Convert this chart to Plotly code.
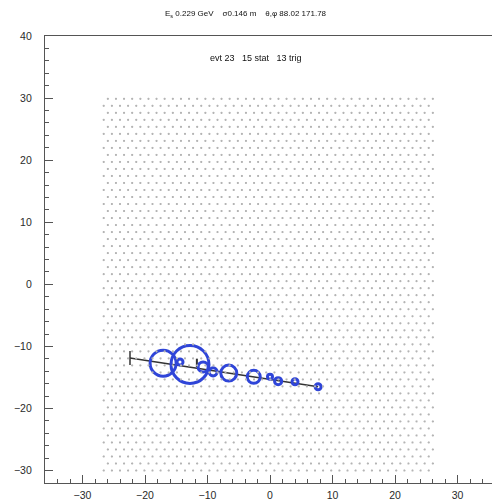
import numpy as np
import plotly.graph_objects as go

# Detector array: triangular lattice of stations
ARRAY_X_MIN, ARRAY_X_MAX = -26.6, 26.2
ARRAY_Y_MIN, ARRAY_Y_MAX = -30.0, 30.5
PITCH_X = 1.3          # spacing along a row
PITCH_Y = 1.13         # spacing between rows

# Hit stations (x, y in m) and their signals
hit_x = [-17.1, -12.8, -14.4, -10.7, -9.1, -6.6, -2.6, 0.0, 1.3, 4.0, 7.7]
hit_y = [-12.7, -12.9, -12.5, -13.3, -14.1, -14.3, -14.9, -14.9, -15.6, -15.7, -16.5]
hit_signal = [18.8, 40.0, 1.0, 2.8, 1.8, 7.1, 4.7, 0.7, 1.4, 1.0, 1.0]

# Reconstructed shower axis projection
axis_x = [-22.4, 7.7]
axis_y = [-11.85, -16.5]
core_x = [-11.7]
core_y = [-12.65]

title_text = "E<sub>s</sub> 0.229 GeV    σ0.146 m    θ,φ 88.02 171.78"
event_text = "evt 23   15 stat   13 trig"

x_ticks = [-30, -20, -10, 0, 10, 20, 30]
y_ticks = [-30, -20, -10, 0, 10, 20, 30, 40]

# build lattice
gx, gy = [], []
ys = np.arange(ARRAY_Y_MIN, ARRAY_Y_MAX + 1e-6, PITCH_Y)
for i, yv in enumerate(ys):
    off = 0.0 if i % 2 == 0 else PITCH_X / 2
    xs = np.arange(ARRAY_X_MIN + off, ARRAY_X_MAX + 1e-6, PITCH_X)
    gx.extend(xs.tolist())
    gy.extend([yv] * len(xs))

BLUE = "#2f45d8"
FONT = "Liberation Sans, Arial"

fig = go.Figure()
fig.add_trace(go.Scattergl(
    x=gx, y=gy, mode="markers",
    marker=dict(size=2.2, color="#b4b4b4"),
    hoverinfo="skip", showlegend=False,
))
fig.add_trace(go.Scatter(
    x=axis_x, y=axis_y, mode="lines",
    line=dict(color="#333333", width=1.5), showlegend=False,
))
fig.add_trace(go.Scatter(
    x=axis_x[:1], y=axis_y[:1], mode="markers",
    marker=dict(symbol="line-ns", size=10, line=dict(color="#333333", width=1.5)),
    showlegend=False,
))
fig.add_trace(go.Scatter(
    x=core_x, y=core_y, mode="markers",
    marker=dict(symbol="line-ns", size=6, line=dict(color="#333333", width=2)),
    showlegend=False,
))
sizes = [6.0 * np.sqrt(s) for s in hit_signal]
fig.add_trace(go.Scatter(
    x=hit_x, y=hit_y, mode="markers",
    marker=dict(symbol="circle-open", size=sizes, color=BLUE, opacity=1,
                line=dict(color=BLUE, width=3)),
    showlegend=False,
))

axis_common = dict(
    showgrid=False, zeroline=False, showline=True, linecolor="#555555",
    linewidth=1.2, mirror=True, ticks="inside", ticklen=8, tickwidth=1,
    tickcolor="#555555",
    tickfont=dict(family=FONT, size=10.5, color="#2a2a2a"),
    minor=dict(ticks="inside", dtick=2, ticklen=4, tickcolor="#555555", tickwidth=1),
)
fig.update_xaxes(range=[-36, 35.52], tickvals=x_ticks, ticklabelstandoff=2, **axis_common)
fig.update_yaxes(range=[-32, 40], tickvals=y_ticks, ticklabelstandoff=10, **axis_common)

fig.add_annotation(
    text=title_text, xref="paper", yref="paper", x=0.45, y=1.0, yshift=22,
    yanchor="middle", showarrow=False,
    font=dict(family=FONT, size=8, color="#111111"),
)
fig.add_annotation(
    text=event_text, xref="paper", yref="paper", x=0.472, y=0.951,
    yanchor="middle", showarrow=False,
    font=dict(family=FONT, size=9, color="#111111"),
)

fig.update_layout(
    width=492, height=503,
    margin=dict(l=45, r=0, t=36, b=20),
    paper_bgcolor="white", plot_bgcolor="white",
)
fig.write_html("out.html")
